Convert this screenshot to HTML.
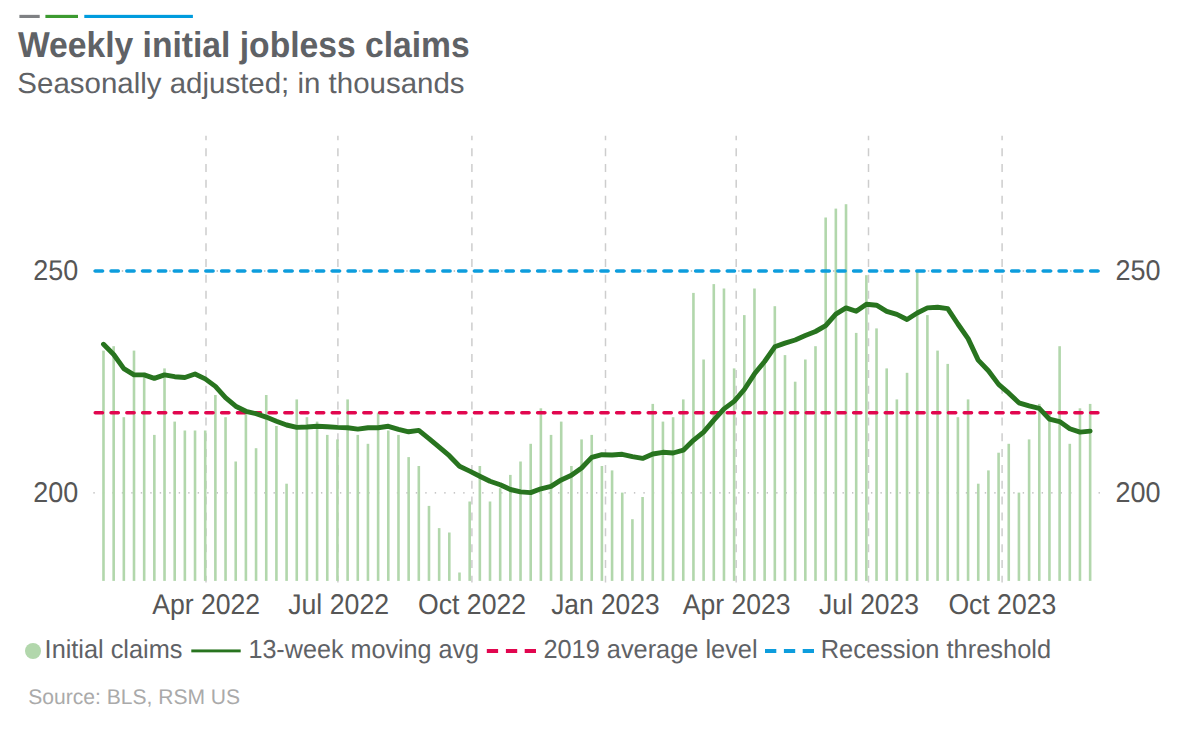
<!DOCTYPE html>
<html lang="en"><head><meta charset="utf-8"><title>Weekly initial jobless claims</title>
<style>
html,body{margin:0;padding:0;background:#fff;}
body{width:1196px;height:730px;overflow:hidden;font-family:"Liberation Sans",sans-serif;}
svg{display:block;position:absolute;left:0;top:0;}
text{font-family:"Liberation Sans",sans-serif;text-rendering:geometricPrecision;}
.t{font-weight:700;fill:#5f6266;}
.s{fill:#5f6266;}
.ax{fill:#565656;}
.lg{fill:#5f6266;}
.src{fill:#aaaaaa;}
</style></head><body>
<svg width="1196" height="730" viewBox="0 0 1196 730">
<rect width="1196" height="730" fill="#ffffff"/>
<g><rect x="19.4" y="14.85" width="20.3" height="3.15" fill="#7f8184"/><rect x="45.4" y="14.85" width="32.6" height="3.15" fill="#3c9a30"/><rect x="84.3" y="14.85" width="108.6" height="3.15" fill="#009cde"/></g>
<g stroke="#cdcdcd" stroke-width="1.5" stroke-dasharray="8 7.84" stroke-dashoffset="3.45" fill="none">
<line x1="206" y1="135.75" x2="206" y2="582.4"/><line x1="337.9" y1="135.75" x2="337.9" y2="582.4"/><line x1="471.9" y1="135.75" x2="471.9" y2="582.4"/><line x1="605.5" y1="135.75" x2="605.5" y2="582.4"/><line x1="736.2" y1="135.75" x2="736.2" y2="582.4"/><line x1="868.5" y1="135.75" x2="868.5" y2="582.4"/><line x1="1002.1" y1="135.75" x2="1002.1" y2="582.4"/>
</g>
<g stroke="#b4b4b4" stroke-width="1.4" stroke-dasharray="1.4 8.083" fill="none"><line x1="93.35" y1="271.05" x2="1100.4" y2="271.05"/><line x1="93.35" y1="492.9" x2="1100.4" y2="492.9"/></g>
<g fill="#b2d7ac">
<rect x="102.19" y="350.6" width="2.6" height="230.3"/><rect x="112.36" y="346.2" width="2.6" height="234.7"/><rect x="122.53" y="417.2" width="2.6" height="163.7"/><rect x="132.70" y="350.6" width="2.6" height="230.3"/><rect x="142.88" y="372.8" width="2.6" height="208.1"/><rect x="153.05" y="434.9" width="2.6" height="146.0"/><rect x="163.22" y="368.4" width="2.6" height="212.5"/><rect x="173.39" y="421.6" width="2.6" height="159.3"/><rect x="183.56" y="430.5" width="2.6" height="150.4"/><rect x="193.73" y="430.5" width="2.6" height="150.4"/><rect x="203.91" y="430.5" width="2.6" height="150.4"/><rect x="214.08" y="395.0" width="2.6" height="185.9"/><rect x="224.25" y="417.2" width="2.6" height="163.7"/><rect x="234.42" y="461.5" width="2.6" height="119.4"/><rect x="244.59" y="412.7" width="2.6" height="168.2"/><rect x="254.76" y="448.2" width="2.6" height="132.7"/><rect x="264.94" y="395.0" width="2.6" height="185.9"/><rect x="275.11" y="426.0" width="2.6" height="154.9"/><rect x="285.28" y="483.7" width="2.6" height="97.2"/><rect x="295.45" y="399.4" width="2.6" height="181.5"/><rect x="305.62" y="417.2" width="2.6" height="163.7"/><rect x="315.79" y="421.6" width="2.6" height="159.3"/><rect x="325.97" y="434.9" width="2.6" height="146.0"/><rect x="336.14" y="439.4" width="2.6" height="141.5"/><rect x="346.31" y="399.4" width="2.6" height="181.5"/><rect x="356.48" y="434.9" width="2.6" height="146.0"/><rect x="366.65" y="443.8" width="2.6" height="137.1"/><rect x="376.82" y="412.7" width="2.6" height="168.2"/><rect x="386.99" y="430.5" width="2.6" height="150.4"/><rect x="397.17" y="434.9" width="2.6" height="146.0"/><rect x="407.34" y="457.1" width="2.6" height="123.8"/><rect x="417.51" y="466.0" width="2.6" height="114.9"/><rect x="427.68" y="505.9" width="2.6" height="75.0"/><rect x="437.85" y="528.1" width="2.6" height="52.8"/><rect x="448.02" y="532.5" width="2.6" height="48.4"/><rect x="458.20" y="572.5" width="2.6" height="8.4"/><rect x="468.37" y="501.5" width="2.6" height="79.4"/><rect x="478.54" y="466.0" width="2.6" height="114.9"/><rect x="488.71" y="501.5" width="2.6" height="79.4"/><rect x="498.88" y="488.2" width="2.6" height="92.7"/><rect x="509.05" y="474.9" width="2.6" height="106.0"/><rect x="519.23" y="461.5" width="2.6" height="119.4"/><rect x="529.40" y="443.8" width="2.6" height="137.1"/><rect x="539.57" y="408.3" width="2.6" height="172.6"/><rect x="549.74" y="434.9" width="2.6" height="146.0"/><rect x="559.91" y="421.6" width="2.6" height="159.3"/><rect x="570.08" y="466.0" width="2.6" height="114.9"/><rect x="580.26" y="439.4" width="2.6" height="141.5"/><rect x="590.43" y="434.9" width="2.6" height="146.0"/><rect x="600.60" y="466.0" width="2.6" height="114.9"/><rect x="610.77" y="470.4" width="2.6" height="110.5"/><rect x="620.94" y="492.6" width="2.6" height="88.3"/><rect x="631.11" y="519.2" width="2.6" height="61.7"/><rect x="641.28" y="497.0" width="2.6" height="83.9"/><rect x="651.46" y="403.9" width="2.6" height="177.0"/><rect x="661.63" y="421.6" width="2.6" height="159.3"/><rect x="671.80" y="417.2" width="2.6" height="163.7"/><rect x="681.97" y="399.4" width="2.6" height="181.5"/><rect x="692.14" y="292.9" width="2.6" height="288.0"/><rect x="702.31" y="359.5" width="2.6" height="221.4"/><rect x="712.49" y="284.1" width="2.6" height="296.8"/><rect x="722.66" y="288.5" width="2.6" height="292.4"/><rect x="732.83" y="368.4" width="2.6" height="212.5"/><rect x="743.00" y="315.1" width="2.6" height="265.8"/><rect x="753.17" y="288.5" width="2.6" height="292.4"/><rect x="763.34" y="359.5" width="2.6" height="221.4"/><rect x="773.52" y="306.2" width="2.6" height="274.7"/><rect x="783.69" y="355.1" width="2.6" height="225.8"/><rect x="793.86" y="381.7" width="2.6" height="199.2"/><rect x="804.03" y="359.5" width="2.6" height="221.4"/><rect x="814.20" y="346.2" width="2.6" height="234.7"/><rect x="824.37" y="217.5" width="2.6" height="363.4"/><rect x="834.55" y="208.6" width="2.6" height="372.3"/><rect x="844.72" y="204.2" width="2.6" height="376.7"/><rect x="854.89" y="332.9" width="2.6" height="248.0"/><rect x="865.06" y="275.2" width="2.6" height="305.7"/><rect x="875.23" y="328.4" width="2.6" height="252.5"/><rect x="885.40" y="368.4" width="2.6" height="212.5"/><rect x="895.57" y="399.4" width="2.6" height="181.5"/><rect x="905.75" y="372.8" width="2.6" height="208.1"/><rect x="915.92" y="270.8" width="2.6" height="310.1"/><rect x="926.09" y="315.1" width="2.6" height="265.8"/><rect x="936.26" y="350.6" width="2.6" height="230.3"/><rect x="946.43" y="363.9" width="2.6" height="217.0"/><rect x="956.60" y="417.2" width="2.6" height="163.7"/><rect x="966.78" y="399.4" width="2.6" height="181.5"/><rect x="976.95" y="483.7" width="2.6" height="97.2"/><rect x="987.12" y="470.4" width="2.6" height="110.5"/><rect x="997.29" y="452.7" width="2.6" height="128.2"/><rect x="1007.46" y="443.8" width="2.6" height="137.1"/><rect x="1017.63" y="492.6" width="2.6" height="88.3"/><rect x="1027.81" y="439.4" width="2.6" height="141.5"/><rect x="1037.98" y="403.9" width="2.6" height="177.0"/><rect x="1048.15" y="412.7" width="2.6" height="168.2"/><rect x="1058.32" y="346.2" width="2.6" height="234.7"/><rect x="1068.49" y="443.8" width="2.6" height="137.1"/><rect x="1078.66" y="408.3" width="2.6" height="172.6"/><rect x="1088.84" y="403.9" width="2.6" height="177.0"/>
</g>
<line x1="95.2" y1="271.05" x2="1098.15" y2="271.05" stroke="#0d9ddd" stroke-width="3.45" stroke-dasharray="7.35 8.45" stroke-linecap="round"/>
<line x1="95.2" y1="412.81" x2="1098.15" y2="412.81" stroke="#e1064f" stroke-width="3.45" stroke-dasharray="7.35 8.45" stroke-linecap="round"/>
<polyline points="103.5,344.3 113.7,354.5 123.8,368.7 134.0,374.9 144.2,374.9 154.3,378.4 164.5,374.9 174.7,376.7 184.9,377.5 195.0,374.0 205.2,378.9 215.4,386.4 225.5,397.7 235.7,406.2 245.9,411.3 256.1,413.7 266.2,417.1 276.4,421.2 286.6,425.0 296.8,427.4 306.9,427.0 317.1,426.3 327.3,426.7 337.4,427.4 347.6,427.7 357.8,429.1 368.0,427.7 378.1,427.7 388.3,426.3 398.5,429.4 408.6,431.8 418.8,430.4 429.0,438.6 439.2,447.2 449.3,455.7 459.5,466.3 469.7,471.1 479.8,476.2 490.0,481.3 500.2,484.7 510.4,489.5 520.5,491.9 530.7,492.6 540.9,488.8 551.0,486.4 561.2,479.9 571.4,475.2 581.6,468.0 591.7,457.4 601.9,454.7 612.1,455.0 622.2,454.3 632.4,456.7 642.6,458.4 652.8,454.0 662.9,452.3 673.1,453.0 683.3,450.2 693.4,440.3 703.6,432.1 713.8,420.2 724.0,408.9 734.1,401.4 744.3,389.5 754.5,373.8 764.6,361.5 774.8,346.8 785.0,343.1 795.2,340.0 805.3,335.6 815.5,331.5 825.7,325.7 835.8,314.1 846.0,307.9 856.2,311.3 866.4,304.2 876.5,305.2 886.7,311.3 896.9,314.4 907.0,319.5 917.2,313.0 927.4,307.9 937.6,307.2 947.7,308.6 957.9,324.0 968.1,338.6 978.2,360.1 988.4,370.7 998.6,384.4 1008.8,393.2 1018.9,402.8 1029.1,405.9 1039.3,408.3 1049.4,419.2 1059.6,421.6 1069.8,428.7 1080.0,432.1 1090.1,431.1" fill="none" stroke="#28741f" stroke-width="4.9" stroke-linejoin="round" stroke-linecap="round"/>
<circle cx="33" cy="651" r="8" fill="#b2d7ac"/>
<rect x="191.3" y="649.45" width="49.4" height="2.9" fill="#28741f"/>
<rect x="486.8" y="649" width="11.3" height="4" fill="#e1064f"/><rect x="505.9" y="649" width="11.3" height="4" fill="#e1064f"/><rect x="524.7" y="649" width="11.3" height="4" fill="#e1064f"/><rect x="765" y="649" width="11.3" height="4" fill="#0d9ddd"/><rect x="783.9" y="649" width="11.3" height="4" fill="#0d9ddd"/><rect x="802.7" y="649" width="11.3" height="4" fill="#0d9ddd"/>
<text class="t" x="17.94" y="56.7" font-size="36.0" textLength="451.80" lengthAdjust="spacingAndGlyphs">Weekly initial jobless claims</text>
<text class="s" x="17.39" y="92.5" font-size="29.0" textLength="447.18" lengthAdjust="spacingAndGlyphs">Seasonally adjusted; in thousands</text>
<text class="ax" x="33.30" y="279.7" font-size="28.5" textLength="44.96" lengthAdjust="spacingAndGlyphs">250</text>
<text class="ax" x="33.30" y="501.6" font-size="28.5" textLength="44.96" lengthAdjust="spacingAndGlyphs">200</text>
<text class="ax" x="1115.52" y="279.7" font-size="28.5" textLength="45.04" lengthAdjust="spacingAndGlyphs">250</text>
<text class="ax" x="1115.52" y="501.6" font-size="28.5" textLength="45.04" lengthAdjust="spacingAndGlyphs">200</text>
<text class="ax" x="152.22" y="613.8" font-size="28.5" textLength="107.94" lengthAdjust="spacingAndGlyphs">Apr 2022</text>
<text class="ax" x="288.16" y="613.8" font-size="28.5" textLength="100.97" lengthAdjust="spacingAndGlyphs">Jul 2022</text>
<text class="ax" x="418.03" y="613.8" font-size="28.5" textLength="108.12" lengthAdjust="spacingAndGlyphs">Oct 2022</text>
<text class="ax" x="551.16" y="613.8" font-size="28.5" textLength="108.38" lengthAdjust="spacingAndGlyphs">Jan 2023</text>
<text class="ax" x="682.71" y="613.8" font-size="28.5" textLength="107.85" lengthAdjust="spacingAndGlyphs">Apr 2023</text>
<text class="ax" x="818.93" y="613.8" font-size="28.5" textLength="100.14" lengthAdjust="spacingAndGlyphs">Jul 2023</text>
<text class="ax" x="948.38" y="613.8" font-size="28.5" textLength="107.86" lengthAdjust="spacingAndGlyphs">Oct 2023</text>
<text class="lg" x="44.61" y="657.8" font-size="26.0" textLength="137.81" lengthAdjust="spacingAndGlyphs">Initial claims</text>
<text class="lg" x="248.40" y="657.8" font-size="26.0" textLength="230.68" lengthAdjust="spacingAndGlyphs">13-week moving avg</text>
<text class="lg" x="543.39" y="657.8" font-size="26.0" textLength="214.20" lengthAdjust="spacingAndGlyphs">2019 average level</text>
<text class="lg" x="820.72" y="657.8" font-size="26.0" textLength="230.38" lengthAdjust="spacingAndGlyphs">Recession threshold</text>
<text class="src" x="28.25" y="703.6" font-size="21.2" textLength="211.90" lengthAdjust="spacingAndGlyphs">Source: BLS, RSM US</text>
</svg></body></html>
